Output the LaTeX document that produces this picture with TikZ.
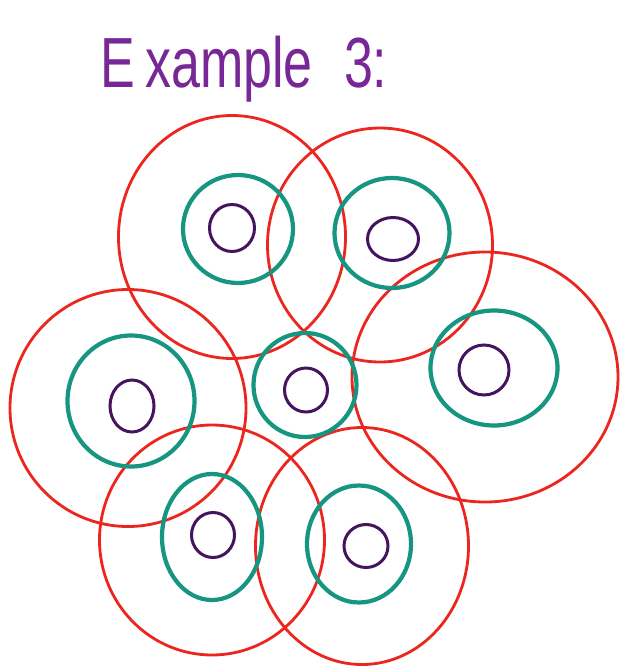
\documentclass[tikz,border=0pt]{standalone}
\usepackage{fontspec}
\setmainfont{Liberation Sans}
\usetikzlibrary{shapes.geometric}
\definecolor{cellred}{RGB}{236,38,30}
\definecolor{cellteal}{RGB}{22,150,128}
\definecolor{cellpurple}{RGB}{70,20,95}
\definecolor{titlepurple}{RGB}{120,40,150}
\tikzset{
  redcell/.style={draw=cellred, line width=2.8pt, ellipse, inner sep=0pt},
  tealcell/.style={draw=cellteal, line width=4.2pt, ellipse, inner sep=0pt},
  purplecell/.style={draw=cellpurple, line width=3pt, ellipse, inner sep=0pt},
}
\begin{document}
\begin{tikzpicture}[x=1pt,y=-1pt]
\useasboundingbox[fill=white] (0,0) rectangle (644,670);
\node[anchor=base west, text=titlepurple, inner sep=0pt] (title) at (100,87)
  {\scalebox{1.04}[1.42]{\fontsize{50}{50}\selectfont E\kern10pt xample\kern30pt 3:}};
% red cells
\node[redcell, minimum width=227pt, minimum height=243pt] (r1) at (232,237) {};
\node[redcell, minimum width=225pt, minimum height=234pt] (r2) at (380,245) {};
\node[redcell, minimum width=236pt, minimum height=237pt] (r3) at (128,408) {};
\node[redcell, minimum width=266pt, minimum height=250pt] (r4) at (485,377) {};
\node[redcell, minimum width=225pt, minimum height=230pt] (r5) at (212,540) {};
\node[redcell, minimum width=213pt, minimum height=237pt] (r6) at (362,546) {};
% teal cells
\node[tealcell, minimum width=110pt, minimum height=108pt] (t1) at (238,229) {};
\node[tealcell, minimum width=115pt, minimum height=110pt] (t2) at (392,233) {};
\node[tealcell, minimum width=127pt, minimum height=131pt] (t3) at (131,401) {};
\node[tealcell, minimum width=103pt, minimum height=104pt] (t4) at (305,385) {};
\node[tealcell, minimum width=127pt, minimum height=115pt] (t5) at (494,368) {};
\node[tealcell, minimum width=100pt, minimum height=126pt] (t6) at (212,537) {};
\node[tealcell, minimum width=104pt, minimum height=117pt] (t7) at (359,544) {};
% purple cells
\node[purplecell, minimum width=45pt, minimum height=47pt] (p1) at (232,228) {};
\node[purplecell, minimum width=51pt, minimum height=43pt] (p2) at (393,239) {};
\node[purplecell, minimum width=44pt, minimum height=52pt] (p3) at (132,406) {};
\node[purplecell, minimum width=43pt, minimum height=44pt] (p4) at (306,390) {};
\node[purplecell, minimum width=50pt, minimum height=50pt] (p5) at (484,370) {};
\node[purplecell, minimum width=43pt, minimum height=45pt] (p6) at (213,535) {};
\node[purplecell, minimum width=44pt, minimum height=43pt] (p7) at (366,546) {};
\end{tikzpicture}
\end{document}
